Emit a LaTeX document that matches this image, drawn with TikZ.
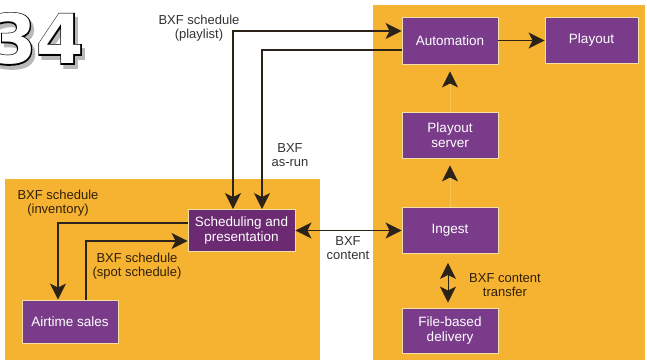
\documentclass[tikz,border=0pt]{standalone}
\usepackage{fontspec}
\setmainfont{Liberation Sans}
\newfontfamily\numfont{DejaVu Sans}
\newfontfamily\numfontfat[FakeBold=3.5]{DejaVu Sans}
\usetikzlibrary{arrows.meta}
\definecolor{panel}{HTML}{F6B231}
\definecolor{ghostline}{HTML}{F8C458}
\definecolor{boxfill}{HTML}{7A3C8A}
\definecolor{boxdark}{HTML}{6C2A72}
\definecolor{boxedge}{HTML}{F3E2A6}
\definecolor{ink}{HTML}{2B2218}
\definecolor{labelink}{HTML}{333333}
\definecolor{oink}{HTML}{30200A}
\begin{document}
\begin{tikzpicture}[x=1pt,y=-1pt,
  >={Stealth[length=16pt,width=16pt,inset=4pt,color=ink]},
  box/.style={draw=boxedge, line width=0.9pt, fill=boxfill, text=white,
    font=\fontsize{13.5}{15}\selectfont, align=center, inner sep=2pt},
  lbl/.style={font=\fontsize{13}{14.5}\selectfont, align=center, text=labelink},
  olbl/.style={lbl, text=oink},
  conn/.style={draw=ink, line width=1.5pt},
  ghost/.style={draw=ghostline, line width=1pt},
  numstyle/.style={anchor=north west, inner sep=0},
]
\useasboundingbox (0,0) rectangle (647,362);
\fill[white] (0,0) rectangle (647,362);
% panels
\fill[panel] (5,179) rectangle (320,360);
\fill[panel] (373,5) rectangle (645,360);
% figure number
\node[numstyle, text=gray!55, font=\numfontfat\fontsize{68}{68}\selectfont\bfseries] (numshadow) at (-8,17) {34};
\node[numstyle, text=black, font=\numfontfat\fontsize{68}{68}\selectfont\bfseries] (numline) at (-11,13) {34};
\node[numstyle, text=white, font=\numfont\fontsize{68}{68}\selectfont\bfseries] (num) at (-11,13) {34};
% boxes
\node[box, minimum width=96pt, minimum height=47pt] (auto) at (450,40.5) {Automation};
\node[box, minimum width=93pt, minimum height=46pt] (play) at (591.5,40.5) {Playout};
\node[box, minimum width=96pt, minimum height=46pt] (server) at (450,135) {Playout\\server};
\node[box, minimum width=96pt, minimum height=46pt] (ingest) at (450,230.5) {Ingest};
\node[box, minimum width=96pt, minimum height=45pt] (file) at (450,330.5) {File-based\\delivery};
\node[box, fill=boxdark, minimum width=107pt, minimum height=42pt] (sched) at (241.5,230.5) {Scheduling and\\presentation};
\node[box, minimum width=96pt, minimum height=43pt] (air) at (70,321.5) {Airtime sales};
% connectors
\draw[conn,<->] ([xshift=-8.5pt]sched.north) |- ([yshift=9.5pt]auto.west);
\draw[conn,->] ([yshift=-9.5pt]auto.west) -| ([xshift=20.5pt]sched.north);
\draw[conn,<->] (sched.east) -- (sched.east -| ingest.west);
\draw[conn,->] ([yshift=7.5pt]sched.west) -| ([xshift=-12pt]air.north);
\draw[conn,->] ([xshift=16pt]air.north) |- ([yshift=-10.5pt]sched.west);
\draw[conn,->] (auto.east) -- (auto.east -| play.west);
\draw[ghost,->,shorten >=7pt] (ingest) -- (server);
\draw[ghost,->,shorten >=7pt] (server) -- (auto);
\draw[conn,line width=1pt,<->,shorten <=9pt,shorten >=5pt] ([xshift=-2pt]ingest.south) -- ([xshift=-2pt]file.north);
% labels
\node[lbl] (l1) at (199,28) {BXF schedule\\(playlist)};
\node[lbl] (l2) at (290,155) {BXF\\as-run};
\node[olbl] (l3) at (58,203) {BXF schedule\\(inventory)};
\node[olbl] (l4) at (137,266) {BXF schedule\\(spot schedule)};
\node[lbl] (l5) at (348,248) {BXF\\content};
\node[olbl] (l6) at (505,285) {BXF content\\transfer};
\end{tikzpicture}
\end{document}
